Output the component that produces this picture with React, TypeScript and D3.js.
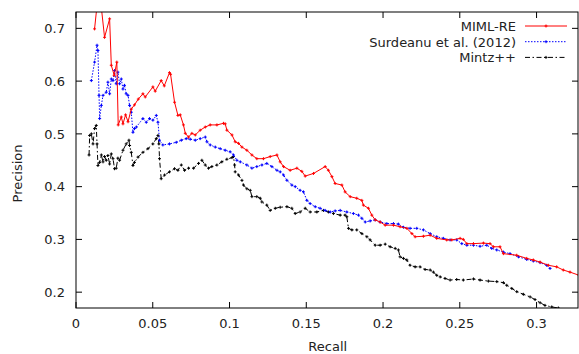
import { useEffect, useRef } from 'react';
import * as d3 from 'd3';

// tick values shown on the axes
const xTicks = [0, 0.05, 0.1, 0.15, 0.2, 0.25, 0.3];
const yTicks = [0.2, 0.3, 0.4, 0.5, 0.6, 0.7];

const seriesNames = ['MIML-RE', 'Surdeanu et al. (2012)', 'Mintz++'];

// MIML-RE
const mimlRecall = [0.0121, 0.0150, 0.0186, 0.0219, 0.0230, 0.0249, 0.0266, 0.0275, 0.0295, 0.0306, 0.0323, 0.0339, 0.0360, 0.0381, 0.0406, 0.0436, 0.0451, 0.0501, 0.0516, 0.0555, 0.0575, 0.0609, 0.0616, 0.0642, 0.0664, 0.0679, 0.0700, 0.0712, 0.0733, 0.0755, 0.0777, 0.0809, 0.0842, 0.0874, 0.0918, 0.0961, 0.0972, 0.0983, 0.1016, 0.1037, 0.1059, 0.1081, 0.1113, 0.1146, 0.1178, 0.1221, 0.1265, 0.1309, 0.1330, 0.1352, 0.1395, 0.1439, 0.1471, 0.1493, 0.1547, 0.1623, 0.1644, 0.1667, 0.1688, 0.1732, 0.1753, 0.1786, 0.1829, 0.1862, 0.1872, 0.1905, 0.1927, 0.1949, 0.1981, 0.2014, 0.2068, 0.2111, 0.2155, 0.2188, 0.2209, 0.2263, 0.2307, 0.2350, 0.2415, 0.2448, 0.2502, 0.2523, 0.2546, 0.2589, 0.2654, 0.2697, 0.2719, 0.2762, 0.2784, 0.2871, 0.2936, 0.2979, 0.3023, 0.3077, 0.3131, 0.3174, 0.3218, 0.3277];
const mimlPrecision = [0.699, 0.78, 0.683, 0.718, 0.630, 0.611, 0.636, 0.517, 0.532, 0.519, 0.536, 0.523, 0.547, 0.555, 0.566, 0.576, 0.570, 0.589, 0.581, 0.601, 0.591, 0.616, 0.613, 0.560, 0.535, 0.536, 0.517, 0.501, 0.494, 0.501, 0.498, 0.507, 0.513, 0.517, 0.517, 0.520, 0.519, 0.507, 0.498, 0.485, 0.482, 0.475, 0.469, 0.460, 0.453, 0.453, 0.457, 0.460, 0.447, 0.438, 0.431, 0.435, 0.429, 0.420, 0.425, 0.438, 0.431, 0.419, 0.406, 0.403, 0.390, 0.381, 0.378, 0.374, 0.365, 0.359, 0.346, 0.337, 0.333, 0.327, 0.327, 0.324, 0.321, 0.311, 0.305, 0.306, 0.308, 0.302, 0.299, 0.299, 0.302, 0.300, 0.292, 0.292, 0.293, 0.292, 0.286, 0.286, 0.273, 0.270, 0.264, 0.261, 0.257, 0.251, 0.248, 0.242, 0.238, 0.232];

// Surdeanu et al. (2012)
const surdRecall = [0.0100, 0.0121, 0.0137, 0.0143, 0.0150, 0.0154, 0.0165, 0.0176, 0.0197, 0.0208, 0.0219, 0.0230, 0.0241, 0.0251, 0.0262, 0.0273, 0.0284, 0.0295, 0.0306, 0.0316, 0.0327, 0.0339, 0.0349, 0.0360, 0.0371, 0.0381, 0.0393, 0.0436, 0.0458, 0.0479, 0.0501, 0.0523, 0.0534, 0.0544, 0.0566, 0.0609, 0.0653, 0.0686, 0.0718, 0.0744, 0.0777, 0.0809, 0.0842, 0.0853, 0.0874, 0.0907, 0.0939, 0.0972, 0.1004, 0.1026, 0.1048, 0.1070, 0.1113, 0.1146, 0.1178, 0.1211, 0.1243, 0.1276, 0.1309, 0.1330, 0.1352, 0.1374, 0.1406, 0.1428, 0.1460, 0.1482, 0.1504, 0.1525, 0.1558, 0.1590, 0.1623, 0.1656, 0.1688, 0.1721, 0.1764, 0.1807, 0.1840, 0.1862, 0.1884, 0.1916, 0.1949, 0.1981, 0.2025, 0.2068, 0.2100, 0.2133, 0.2176, 0.2220, 0.2263, 0.2307, 0.2350, 0.2393, 0.2437, 0.2480, 0.2513, 0.2546, 0.2589, 0.2632, 0.2676, 0.2708, 0.2741, 0.2784, 0.2827, 0.2882, 0.2936, 0.2979, 0.3023, 0.3066, 0.3088];
const surdPrecision = [0.601, 0.636, 0.668, 0.658, 0.573, 0.529, 0.554, 0.573, 0.579, 0.598, 0.576, 0.604, 0.601, 0.620, 0.595, 0.617, 0.595, 0.604, 0.585, 0.592, 0.576, 0.573, 0.554, 0.541, 0.503, 0.510, 0.513, 0.529, 0.522, 0.529, 0.526, 0.535, 0.522, 0.488, 0.479, 0.481, 0.484, 0.488, 0.491, 0.490, 0.488, 0.491, 0.494, 0.485, 0.479, 0.475, 0.472, 0.469, 0.466, 0.460, 0.450, 0.447, 0.441, 0.435, 0.438, 0.441, 0.444, 0.438, 0.431, 0.428, 0.422, 0.412, 0.403, 0.400, 0.393, 0.390, 0.374, 0.368, 0.362, 0.359, 0.355, 0.352, 0.354, 0.355, 0.352, 0.349, 0.346, 0.340, 0.333, 0.335, 0.337, 0.333, 0.330, 0.330, 0.329, 0.323, 0.321, 0.321, 0.318, 0.311, 0.305, 0.302, 0.299, 0.299, 0.292, 0.289, 0.289, 0.287, 0.289, 0.283, 0.280, 0.276, 0.273, 0.267, 0.262, 0.259, 0.256, 0.251, 0.245];

// Mintz++
const mintzRecall = [0.0085, 0.0089, 0.0100, 0.0111, 0.0121, 0.0132, 0.0137, 0.0143, 0.0154, 0.0165, 0.0176, 0.0186, 0.0197, 0.0208, 0.0219, 0.0230, 0.0241, 0.0251, 0.0262, 0.0273, 0.0284, 0.0306, 0.0327, 0.0345, 0.0349, 0.0360, 0.0371, 0.0381, 0.0404, 0.0436, 0.0469, 0.0501, 0.0523, 0.0534, 0.0540, 0.0544, 0.0555, 0.0577, 0.0609, 0.0642, 0.0664, 0.0686, 0.0707, 0.0733, 0.0766, 0.0798, 0.0820, 0.0842, 0.0863, 0.0885, 0.0918, 0.0950, 0.0983, 0.1016, 0.1026, 0.1033, 0.1037, 0.1059, 0.1081, 0.1091, 0.1113, 0.1135, 0.1146, 0.1178, 0.1200, 0.1211, 0.1243, 0.1265, 0.1298, 0.1330, 0.1374, 0.1406, 0.1428, 0.1460, 0.1493, 0.1525, 0.1569, 0.1612, 0.1644, 0.1677, 0.1721, 0.1753, 0.1764, 0.1775, 0.1797, 0.1829, 0.1862, 0.1895, 0.1916, 0.1949, 0.1981, 0.2014, 0.2046, 0.2079, 0.2100, 0.2111, 0.2133, 0.2155, 0.2176, 0.2209, 0.2241, 0.2274, 0.2307, 0.2328, 0.2350, 0.2372, 0.2404, 0.2437, 0.2480, 0.2523, 0.2589, 0.2632, 0.2686, 0.2741, 0.2784, 0.2806, 0.2839, 0.2871, 0.2914, 0.2958, 0.2990, 0.3023, 0.3055, 0.3099, 0.3142];
const mintzPrecision = [0.460, 0.497, 0.500, 0.481, 0.510, 0.516, 0.481, 0.440, 0.446, 0.460, 0.447, 0.457, 0.450, 0.459, 0.443, 0.462, 0.453, 0.434, 0.435, 0.454, 0.450, 0.469, 0.481, 0.488, 0.478, 0.465, 0.440, 0.446, 0.456, 0.465, 0.472, 0.481, 0.491, 0.497, 0.481, 0.453, 0.415, 0.422, 0.428, 0.434, 0.431, 0.441, 0.431, 0.435, 0.435, 0.444, 0.450, 0.441, 0.435, 0.438, 0.441, 0.447, 0.452, 0.455, 0.457, 0.441, 0.428, 0.422, 0.412, 0.403, 0.396, 0.393, 0.381, 0.381, 0.378, 0.371, 0.365, 0.355, 0.359, 0.361, 0.362, 0.359, 0.349, 0.352, 0.359, 0.352, 0.352, 0.355, 0.352, 0.349, 0.346, 0.346, 0.343, 0.321, 0.318, 0.318, 0.311, 0.305, 0.299, 0.289, 0.289, 0.291, 0.286, 0.283, 0.280, 0.267, 0.264, 0.261, 0.251, 0.248, 0.248, 0.243, 0.242, 0.238, 0.232, 0.229, 0.226, 0.223, 0.224, 0.223, 0.225, 0.223, 0.221, 0.220, 0.218, 0.213, 0.207, 0.201, 0.196, 0.191, 0.186, 0.180, 0.175, 0.172, 0.170];

const colors = ['#ff0000', '#0000ff', '#000000'];
const dashes = ['none', '1.5,1.5', '5,2.5,1.5,2.5'];

export default function App() {
    const svgRef = useRef<SVGSVGElement>(null);

    useEffect(() => {
        const width = 579;
        const height = 354;
        const margin = { top: 12, right: 1, bottom: 46, left: 76 };
        const innerWidth = width - margin.left - margin.right;
        const innerHeight = height - margin.top - margin.bottom;
        const font = 'DejaVu Sans, sans-serif';
        const fontSize = '13px';

        const svg = d3.select(svgRef.current);
        svg.selectAll('*').remove();
        svg.attr('width', width).attr('height', height);

        const g = svg.append('g').attr('transform', `translate(${margin.left},${margin.top})`);

        const x = d3.scaleLinear().domain([0, 0.327]).range([0, innerWidth]);
        const y = d3.scaleLinear().domain([0.17, 0.731]).range([innerHeight, 0]);

        svg.append('defs').append('clipPath').attr('id', 'plot-clip')
            .append('rect').attr('width', innerWidth).attr('height', innerHeight);

        // ticks pointing inward, mirrored on all four sides
        const tickLen = 6;
        xTicks.forEach(t => {
            const px = x(t);
            g.append('line').attr('x1', px).attr('x2', px).attr('y1', innerHeight).attr('y2', innerHeight - tickLen).attr('stroke', '#000');
            g.append('line').attr('x1', px).attr('x2', px).attr('y1', 0).attr('y2', tickLen).attr('stroke', '#000');
            g.append('text')
                .attr('x', px).attr('y', innerHeight + 20)
                .attr('text-anchor', 'middle')
                .style('font-family', font).style('font-size', fontSize)
                .attr('fill', '#222')
                .text(String(t));
        });
        yTicks.forEach(t => {
            const py = y(t);
            g.append('line').attr('x1', 0).attr('x2', tickLen).attr('y1', py).attr('y2', py).attr('stroke', '#000');
            g.append('line').attr('x1', innerWidth).attr('x2', innerWidth - tickLen).attr('y1', py).attr('y2', py).attr('stroke', '#000');
            g.append('text')
                .attr('x', -11).attr('y', py + 4.7)
                .attr('text-anchor', 'end')
                .style('font-family', font).style('font-size', fontSize)
                .attr('fill', '#222')
                .text(String(t));
        });

        // axis labels
        svg.append('text')
            .attr('x', margin.left + x(0.164)).attr('y', 351)
            .attr('text-anchor', 'middle')
            .style('font-family', font).style('font-size', fontSize)
            .attr('fill', '#222')
            .text('Recall');
        svg.append('text')
            .attr('transform', `translate(22,${margin.top + y(0.425)}) rotate(-90)`)
            .attr('text-anchor', 'middle')
            .style('font-family', font).style('font-size', fontSize)
            .attr('fill', '#222')
            .text('Precision');

        const series = [
            { r: mimlRecall, p: mimlPrecision },
            { r: surdRecall, p: surdPrecision },
            { r: mintzRecall, p: mintzPrecision }
        ];

        const line = d3.line<[number, number]>()
            .x(d => x(d[0]))
            .y(d => y(d[1]));

        const plot = g.append('g').attr('clip-path', 'url(#plot-clip)');

        // draw back to front so red ends up on top
        [2, 1, 0].forEach(i => {
            const pts: [number, number][] = series[i].r.map((r, k) => [r, series[i].p[k]]);
            plot.append('path')
                .datum(pts)
                .attr('fill', 'none')
                .attr('stroke', colors[i])
                .attr('stroke-width', 1)
                .attr('stroke-dasharray', dashes[i])
                .attr('d', line);
            // small "+" point markers
            plot.selectAll(null)
                .data(pts)
                .enter()
                .append('path')
                .attr('d', d => `M${x(d[0]) - 1.5},${y(d[1])}h3M${x(d[0])},${y(d[1]) - 1.5}v3`)
                .attr('stroke', colors[i])
                .attr('stroke-width', 1);
        });

        // frame
        g.append('rect')
            .attr('width', innerWidth).attr('height', innerHeight)
            .attr('fill', 'none').attr('stroke', '#000').attr('stroke-width', 1);

        // legend
        const legend = g.append('g');
        seriesNames.forEach((name, i) => {
            const ly = 14 + i * 15.7;
            legend.append('text')
                .attr('x', 440).attr('y', ly + 5)
                .attr('text-anchor', 'end')
                .style('font-family', font).style('font-size', fontSize)
                .attr('fill', '#222')
                .text(name);
            legend.append('line')
                .attr('x1', 449).attr('x2', 491).attr('y1', ly).attr('y2', ly)
                .attr('stroke', colors[i]).attr('stroke-width', 1)
                .attr('stroke-dasharray', dashes[i]);
            legend.append('path')
                .attr('d', `M468.5,${ly}h3M470,${ly - 1.5}v3`)
                .attr('stroke', colors[i]).attr('stroke-width', 1);
        });
    }, []);

    return (
        <div style={{ position: 'absolute', left: 0, top: 0 }}>
            <svg ref={svgRef}></svg>
        </div>
    );
}
